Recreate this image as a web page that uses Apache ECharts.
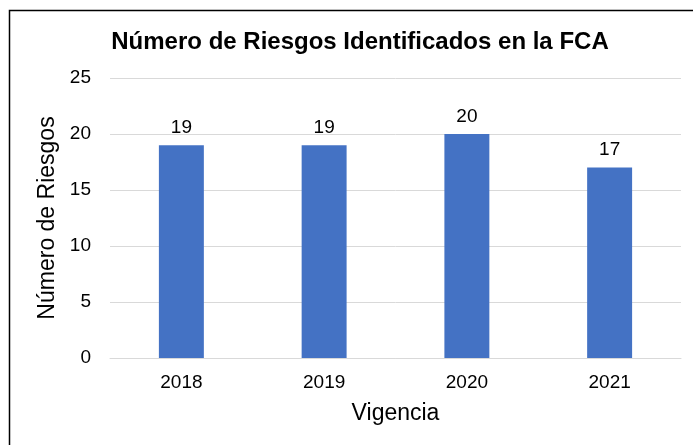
<!DOCTYPE html>
<html>
<head>
<meta charset="utf-8">
<script src="https://cdn.jsdelivr.net/npm/echarts@6/dist/echarts.min.js"></script>
<style>
html,body{margin:0;padding:0;background:#fff;}
#main{width:693px;height:445px;}
</style>
</head>
<body>
<div id="main"></div>
<script>
// datos del gráfico
var years = ['2018', '2019', '2020', '2021'];
var riesgos = [19, 19, 20, 17];
var yTicks = [0, 25, 5]; // min, max, intervalo

var myChart = echarts.init(document.getElementById('main'));
var fuente = 'Liberation Sans, Arial, sans-serif';

var option = {
    animation: false,
    backgroundColor: '#fff',
    title: {
        text: 'Número de Riesgos Identificados en la FCA',
        left: 355,
        top: 25,
        textAlign: 'center',
        textStyle: {fontFamily: fuente, fontSize: 24, fontWeight: 'bold', color: '#000'}
    },
    graphic: [{
        type: 'rect',
        shape: {x: 9.5, y: 10.5, width: 700, height: 460},
        style: {fill: 'none', stroke: '#000', lineWidth: 1.5},
        silent: true
    }],
    grid: {left: 110, right: 12, top: 78, bottom: 87},
    xAxis: {
        type: 'category',
        data: years,
        name: 'Vigencia',
        nameLocation: 'middle',
        nameGap: 44,
        nameTextStyle: {fontFamily: fuente, fontSize: 23, color: '#000'},
        axisLine: {lineStyle: {color: '#d9d9d9'}},
        axisTick: {show: false},
        axisLabel: {fontFamily: fuente, fontSize: 19, color: '#000', margin: 15}
    },
    yAxis: {
        type: 'value',
        min: yTicks[0],
        max: yTicks[1],
        interval: yTicks[2],
        name: 'Número de Riesgos',
        nameLocation: 'middle',
        nameGap: 41,
        nameTextStyle: {fontFamily: fuente, fontSize: 23, color: '#000'},
        axisLine: {show: false},
        axisTick: {show: false},
        splitLine: {lineStyle: {color: '#d9d9d9'}},
        axisLabel: {fontFamily: fuente, fontSize: 19, color: '#000', margin: 19}
    },
    series: [{
        type: 'bar',
        data: riesgos,
        barWidth: '31.5%',
        itemStyle: {color: '#4472C4'},
        label: {
            show: true,
            position: 'top',
            distance: 8,
            fontFamily: fuente,
            fontSize: 19,
            color: '#000'
        }
    }]
};
myChart.setOption(option);
</script>
</body>
</html>
